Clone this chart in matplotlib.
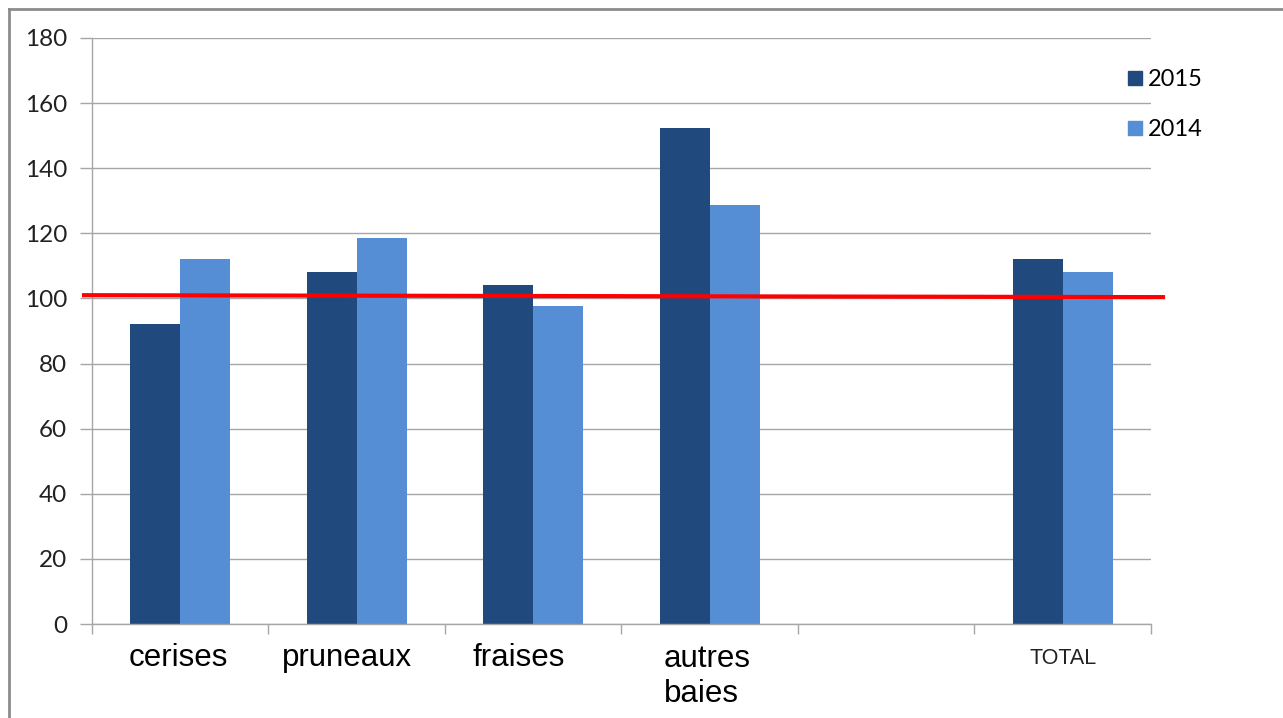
import matplotlib.pyplot as plt
import numpy as np
from matplotlib.lines import Line2D

categories = ['cerises', 'pruneaux', 'fraises', 'autres\nbaies', '', 'TOTAL']
v2015 = [92, 108, 104.2, 152.3, np.nan, 112]
v2014 = [112, 118.5, 97.8, 128.7, np.nan, 108]
ref_line = [101, 100.4]   # red reference line, left / right end
yticks = list(range(0, 181, 20))

c2015 = '#204A7E'
c2014 = '#558ED5'
grid_c = '#A6A6A6'

fig = plt.figure(figsize=(12.83, 7.18), dpi=100)
ax = fig.add_axes([0.0717, 0.1309, 0.8254, 0.8162])

x = np.arange(len(categories)) + 0.5
w = 0.284
ax.bar(x - w/2, v2015, w, color=c2015, label='2015', zorder=2)
ax.bar(x + w/2, v2014, w, color=c2014, label='2014', zorder=2)

ax.set_xlim(0, 6)
ax.set_ylim(0, 180)
ax.set_yticks(yticks)
ax.set_yticklabels([str(t) for t in yticks], fontfamily='Lato', fontsize=17.5, color='#222222')
ax.tick_params(axis='y', length=9, width=1, color=grid_c, pad=9)
ax.yaxis.grid(True, color=grid_c, linewidth=1, zorder=0)
ax.set_axisbelow(True)

ax.set_xticks(np.arange(0, 7))
ax.set_xticklabels([])
ax.tick_params(axis='x', length=7, width=1, color=grid_c, direction='out')

for s in ['top', 'right']:
    ax.spines[s].set_visible(False)
for s in ['left', 'bottom']:
    ax.spines[s].set_color(grid_c)
    ax.spines[s].set_linewidth(1)

# category labels (Excel places them a bit left of centre)
shifts = [-0.01, -0.055, -0.08, 0, 0, 0.005]
for xi, lab, dx in zip(x, categories, shifts):
    if lab == 'TOTAL':
        ax.text(xi + dx, -10.5, lab, ha='center', va='center', fontfamily='Liberation Sans',
                fontsize=15.5, color='#222222')
    elif '\n' in lab:
        ax.text(xi - 0.26, -6.2, lab, ha='left', va='top',
                fontfamily='Liberation Sans', fontsize=22.5, color='black', linespacing=1.2)
    else:
        ax.text(xi + dx, -10.5, lab, ha='center', va='center', fontfamily='Liberation Sans',
                fontsize=22.5, color='black')

# red line across the chart
ax.plot([-0.057, 6.08], ref_line, color='#FF0000', linewidth=3, clip_on=False,
        zorder=3, solid_capstyle='butt')

# legend
handles = [Line2D([], [], marker='s', linestyle='none', markersize=10.5,
                  markerfacecolor=c, markeredgecolor=c) for c in (c2015, c2014)]
ax.legend(handles, ['2015', '2014'], loc='upper left', bbox_to_anchor=(0.9735, 0.947),
          frameon=False, prop={'family': 'Lato', 'size': 17}, handletextpad=0.05,
          labelspacing=1.22, handlelength=1.0, borderaxespad=0, borderpad=0)

# outer frame (top and left only)
fig.add_artist(Line2D([0.007, 1], [0.9875, 0.9875], color='#8C8C8C', linewidth=2,
                      transform=fig.transFigure))
fig.add_artist(Line2D([0.007, 0.007], [0, 0.9875], color='#8C8C8C', linewidth=2,
                      transform=fig.transFigure))

fig.savefig('out.png', dpi=100, facecolor='white')
